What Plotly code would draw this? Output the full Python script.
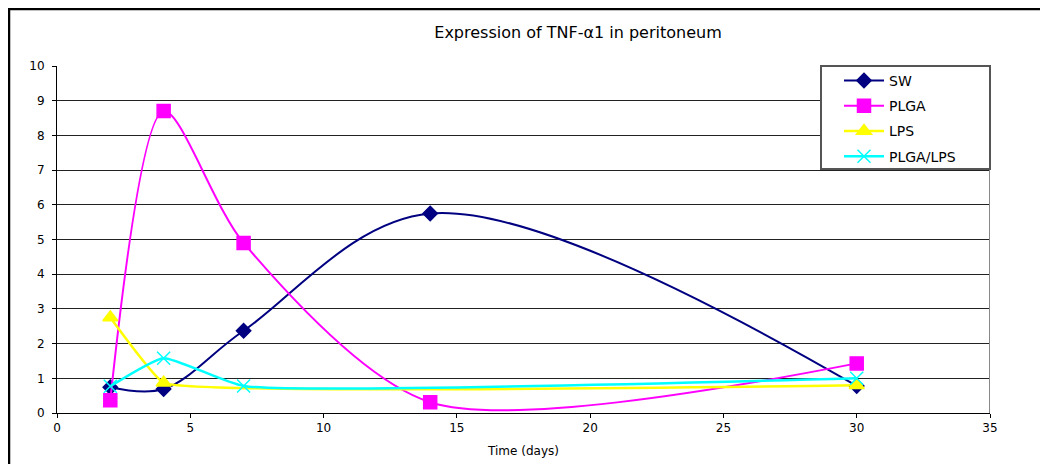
import plotly.graph_objects as go

days_sw = [2, 4, 7, 14, 30]
sw = [0.74, 0.69, 2.37, 5.75, 0.78]

days_plga = [2, 4, 7, 14, 30]
plga = [0.37, 8.7, 4.9, 0.31, 1.43]

days_lps = [2, 4, 30]
lps = [2.75, 0.87, 0.8]

days_plga_lps = [2, 4, 7, 30]
plga_lps = [0.77, 1.58, 0.78, 1.0]

x_ticks = [0, 5, 10, 15, 20, 25, 30, 35]
y_ticks = list(range(0, 11))

L, R, T, B = 49, 66, 58, 59
W, H = 1048, 464
PW, PH = W - L - R, H - T - B
FONT = "DejaVu Sans, Arial"

fig = go.Figure()

def add(name, x, y, color, symbol, size, group, smooth, width=2):
    fig.add_trace(go.Scatter(
        x=x, y=y, name=name, mode="lines+markers",
        line=dict(color=color, width=width, shape="spline", smoothing=smooth),
        marker=dict(symbol=symbol, size=size, color=color,
                    line=dict(color=color, width=1.5)),
        legendgroup=group,
    ))

add("SW", days_sw, sw, "#000080", "diamond", 11, "a", 1.0)
add("PLGA", days_plga, plga, "#FF00FF", "square", 13, "b", 0.8)
add("LPS", days_lps, lps, "#FFFF00", "triangle-up", 13, "c", 0.25, 2.5)
add("PLGA/LPS", days_plga_lps, plga_lps, "#00FFFF", "x-thin", 13, "d", 0.45, 2.5)

# legend box (page px 821..990, 66..169)
lx0 = (821 - 8 - L) / PW
lx1 = (990 - 8 - L) / PW
ly1 = 1 - (66 - 8 - T) / PH
ly0 = 1 - (169 - 8 - T) / PH

fig.update_layout(
    width=W, height=H,
    margin=dict(l=L, r=R, t=T, b=B),
    paper_bgcolor="white", plot_bgcolor="white",
    font=dict(family=FONT, size=12, color="black"),
    title=dict(text="Expression of TNF-α1 in peritoneum", x=570 / W, xanchor="center",
               y=1 - 24 / H, yanchor="middle",
               font=dict(family=FONT, size=16, color="black")),
    xaxis=dict(range=[0, 35], tickvals=x_ticks, showgrid=False,
               showline=True, linecolor="black", linewidth=1,
               ticks="outside", ticklen=4, tickcolor="black",
               zeroline=False, mirror=False,
               tickfont=dict(family=FONT, size=12, color="black"),
               title=dict(text="Time (days)", font=dict(family=FONT, size=12), standoff=12)),
    yaxis=dict(range=[0, 10], tickvals=y_ticks, showgrid=True,
               gridcolor="#222222", gridwidth=1,
               showline=True, linecolor="black", linewidth=1,
               ticks="outside", ticklen=4, tickcolor="black",
               tickfont=dict(family=FONT, size=12, color="black"),
               ticklabelstandoff=5,
               zeroline=False),
    legend=dict(x=lx0 + 18 / PW, xanchor="left", y=ly1 + 0.003, yanchor="top",
                borderwidth=0, bgcolor="rgba(0,0,0,0)",
                traceorder="grouped", tracegroupgap=4,
                font=dict(family=FONT, size=14, color="black"), itemwidth=40),
    showlegend=True,
    shapes=[
        dict(type="line", xref="x", yref="y", x0=35, x1=35, y0=0, y1=10,
             line=dict(color="#888888", width=2)),
        dict(type="rect", xref="paper", yref="paper",
             x0=lx0, x1=lx1, y0=ly0, y1=ly1,
             fillcolor="white", line=dict(color="#555555", width=2), layer="above"),
        dict(type="rect", xref="paper", yref="paper",
             x0=(-L + 1) / PW, x1=1.2, y0=-0.3, y1=1 + (T - 1) / PH,
             line=dict(color="black", width=2.5), layer="below"),
    ],
)

fig.write_html("out.html")
